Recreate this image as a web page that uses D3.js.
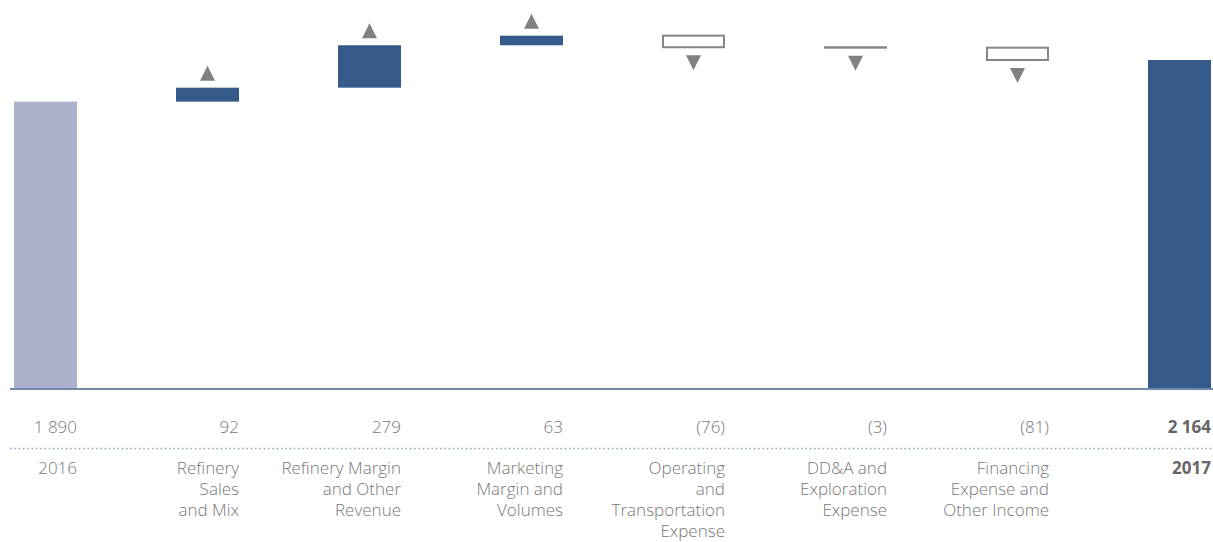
<!DOCTYPE html>
<html>
<head>
<meta charset="utf-8">
<script src="https://cdn.jsdelivr.net/npm/d3@7"></script>
<style>
  body { margin: 0; background: #fff; }
  text { font-family: "Open Sans", "Noto Sans", sans-serif; font-weight: 300; fill: #777; }
</style>
</head>
<body>
<div id="chart"></div>
<script>
// waterfall data, 2016 -> 2017
const categories = ["2016", "Refinery Sales and Mix", "Refinery Margin and Other Revenue",
  "Marketing Margin and Volumes", "Operating and Transportation Expense",
  "DD&A and Exploration Expense", "Financing Expense and Other Income", "2017"];
const labelLines = [
  ["2016"],
  ["Refinery", "Sales", "and Mix"],
  ["Refinery Margin", "and Other", "Revenue"],
  ["Marketing", "Margin and", "Volumes"],
  ["Operating", "and", "Transportation", "Expense"],
  ["DD&A and", "Exploration", "Expense"],
  ["Financing", "Expense and", "Other Income"],
  ["2017"]
];
const values = [1890, 92, 279, 63, -76, -3, -81, 2164];
const isTotal = [true, false, false, false, false, false, false, true];

const width = 1213, height = 542;
const baseY = 389;

const svg = d3.select("#chart").append("svg")
  .attr("width", width)
  .attr("height", height);

const x = d3.scaleBand().domain(categories).range([14, 1211]).paddingInner(0.611).paddingOuter(0);
const y = d3.scaleLinear().domain([0, 2164]).range([baseY, 60]);

// running totals
let run = 0;
const steps = categories.map((c, i) => {
  let start, end;
  if (isTotal[i]) { start = 0; end = values[i]; run = values[i]; }
  else { start = run; end = run + values[i]; run = end; }
  return {cat: c, v: values[i], start, end, total: isTotal[i], i};
});

const fmt = v => {
  const s = d3.format(",")(Math.abs(v)).replace(/,/g, " ");
  return v < 0 ? "(" + s + ")" : s;
};

const bars = svg.append("g");
bars.selectAll("rect").data(steps).enter().append("rect")
  .attr("x", d => d.v < 0 && !d.total ? x(d.cat) + 1 : x(d.cat))
  .attr("width", d => d.v < 0 && !d.total ? x.bandwidth() - 2 : x.bandwidth())
  .attr("y", d => y(Math.max(d.start, d.end)))
  .attr("height", d => Math.abs(y(d.start) - y(d.end)))
  .attr("fill", d => d.i === 0 ? "#acb1cc" : (d.v < 0 ? "#fff" : "#365a8a"))
  .attr("stroke", d => d.v < 0 && !d.total ? "#868686" : "none")
  .attr("stroke-width", 2);

// arrows
const tri = svg.append("g");
steps.filter(d => !d.total).forEach(d => {
  const cx = x(d.cat) + x.bandwidth() / 2;
  const p = d3.path();
  if (d.v > 0) {
    const b = y(d.end) - 7;
    p.moveTo(cx - 7.5, b); p.lineTo(cx + 7.5, b); p.lineTo(cx, b - 15); p.closePath();
  } else {
    const t = y(d.end) + 8;
    p.moveTo(cx - 7.5, t); p.lineTo(cx + 7.5, t); p.lineTo(cx, t + 15); p.closePath();
  }
  tri.append("path").attr("d", p.toString()).attr("fill", "#818181");
});

// baseline
svg.append("line")
  .attr("x1", 10).attr("x2", width)
  .attr("y1", baseY).attr("y2", baseY)
  .attr("stroke", "#7389aa").attr("stroke-width", 2);

// dotted separator
svg.append("line")
  .attr("x1", 10).attr("x2", width)
  .attr("y1", 448.5).attr("y2", 448.5)
  .attr("stroke", "#8aa0bf").attr("stroke-width", 1.5)
  .attr("stroke-dasharray", "1.5,2.8");

// value row
svg.append("g").selectAll("text").data(steps).enter().append("text")
  .attr("x", d => x(d.cat) + x.bandwidth())
  .attr("y", 433)
  .attr("text-anchor", "end")
  .style("font-size", "17px")
  .style("font-weight", d => d.i === 7 ? 700 : 300)
  .style("fill", d => d.i === 7 ? "#666" : null)
  .text(d => fmt(d.v));

// category labels
const lab = svg.append("g").selectAll("text").data(steps).enter().append("text")
  .attr("x", d => x(d.cat) + x.bandwidth())
  .attr("y", 474)
  .attr("text-anchor", "end")
  .style("font-size", "17px")
  .style("font-weight", d => d.i === 7 ? 700 : 300)
  .style("fill", d => d.i === 7 ? "#666" : null);
lab.selectAll("tspan").data(d => labelLines[d.i].map(l => ({l, x: x(d.cat) + x.bandwidth()})))
  .enter().append("tspan")
  .attr("x", t => t.x)
  .attr("dy", (t, j) => j === 0 ? 0 : 21)
  .text(t => t.l);
</script>
</body>
</html>
